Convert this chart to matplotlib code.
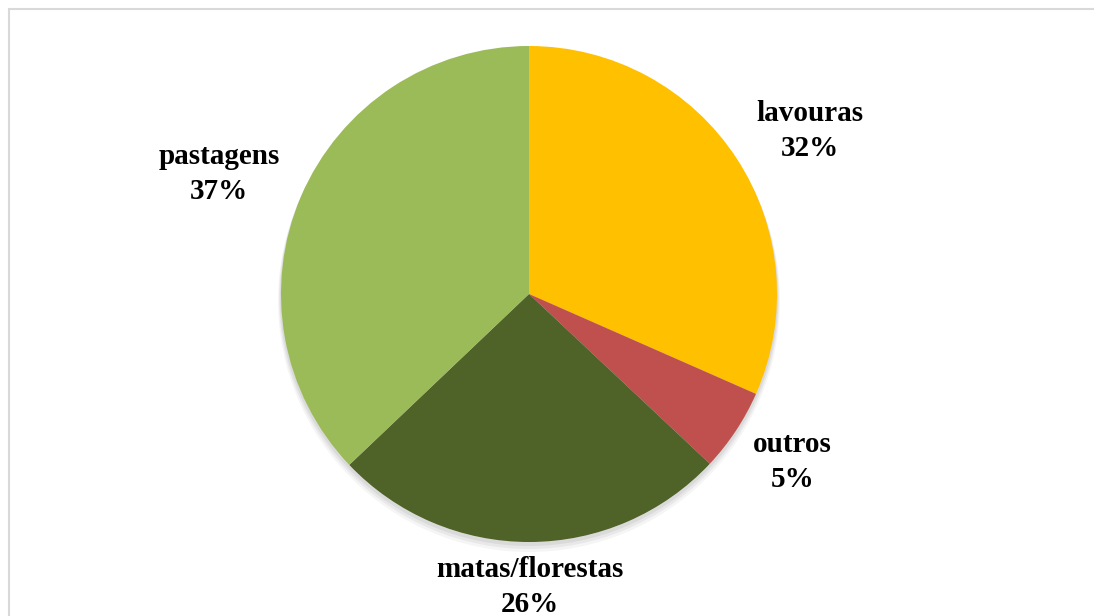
import numpy as np
import matplotlib.pyplot as plt
from matplotlib.patches import Circle

# land use shares (%), clockwise from 12 o'clock
labels = ['lavouras', 'outros', 'matas/florestas', 'pastagens']
values = [31.6, 5.4, 25.9, 37.1]
colors = ['#FFC000', '#C0504D', '#4F6228', '#9BBB59']

# label placement: distance (in radii) and angle tweak (deg) from wedge middle
label_dist = [1.31, 1.26, 1.18, 1.34]
label_dang = [-3, 1, 0, 2]

fig = plt.figure(figsize=(10.96, 6.16), dpi=100, facecolor='white')
ax = fig.add_axes([0, 0, 1, 1])

cx, cy, r = 529, 294, 248

# soft shadow under the pie
for k, a in enumerate([0.06, 0.05, 0.04]):
    ax.add_patch(Circle((cx, cy + 3 + k * 2), r + 1 + k, color='k', alpha=a, lw=0, zorder=1))

# y axis gets inverted below, so counterclock=True draws clockwise on screen
wedges, _ = ax.pie(values, colors=colors, startangle=-90, counterclock=True,
                   center=(cx, cy), radius=r,
                   wedgeprops=dict(linewidth=0, zorder=2))
ax.set_xlim(0, 1096)
ax.set_ylim(616, 0)
ax.set_aspect('auto')
ax.set_frame_on(False)
ax.axis('off')

# chart frame: only top and left edges are inside the picture
ax.plot([8, 1094], [8.5, 8.5], color='#d9d9d9', lw=1.5, solid_capstyle='butt')
ax.plot([8.5, 8.5], [8, 616], color='#d9d9d9', lw=1.5, solid_capstyle='butt')

tot = sum(values)
start = 90.0
for lab, v, d, da in zip(labels, values, label_dist, label_dang):
    span = v / tot * 360
    mid = np.deg2rad(start - span / 2 + da)
    start -= span
    x = cx + d * r * np.cos(mid)
    y = cy - d * r * np.sin(mid)
    ax.text(x, y, f'{lab}\n{v:.0f}%', ha='center', va='center',
            fontsize=21, fontweight='bold', family='Liberation Serif',
            linespacing=1.38, zorder=5)

fig.savefig('out.png', dpi=100, facecolor='white')
